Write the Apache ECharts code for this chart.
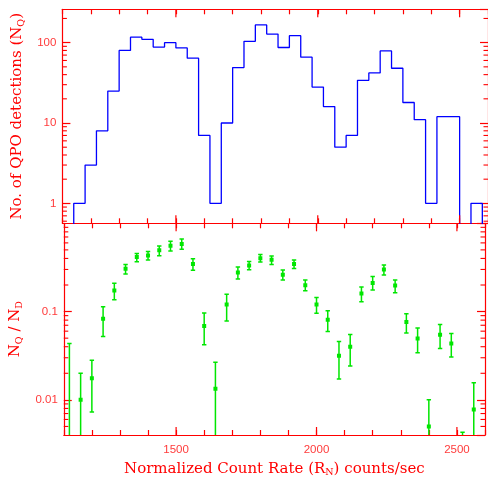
<!DOCTYPE html>
<html>
<head>
<meta charset="utf-8">
<script src="https://cdn.jsdelivr.net/npm/echarts@6/dist/echarts.min.js"></script>
<style>
html,body{margin:0;padding:0;background:#fff;}
#chart{width:488px;height:479px;}
</style>
</head>
<body>
<div id="chart"></div>
<script>
// ---------------- data ----------------
// bin centres (counts/sec), bin width 40
const binCenters = [1120,1160,1200,1240,1280,1320,1360,1400,1440,1480,1520,1560,1600,1640,1680,1720,1760,1800,1840,1880,1920,1960,2000,2040,2080,2120,2160,2200,2240,2280,2320,2360,2400,2440,2480,2520,2560,2600];
const binHalfWidth = 20;
// number of QPO detections per bin (top panel)
const qpoCounts = [0,1,3,8,25,80,117,110,88,100,86,64,7,1,10,49,104,166,128,87,122,66,28,16,5,7,34,42,79,48,18,11,1,12,12,0,1,0];
// NQ/ND ratio per bin (bottom panel) with lower / upper error limits
const ratioCenters = [1120,1160,1200,1240,1280,1320,1360,1400,1440,1480,1520,1560,1600,1640,1680,1720,1760,1800,1840,1880,1920,1960,2000,2040,2080,2120,2160,2200,2240,2280,2320,2360,2400,2440,2480,2520,2560];
const ratioValues = [0,0.010,0.0176,0.083,0.173,0.306,0.414,0.431,0.496,0.558,0.584,0.345,0.0687,0.0134,0.120,0.278,0.333,0.403,0.386,0.262,0.345,0.199,0.1205,0.081,0.0316,0.040,0.160,0.211,0.300,0.197,0.0762,0.0496,0.0050,0.0545,0.0436,0,0.0078];
const ratioUpper  = [0.0436,0.020,0.0281,0.1135,0.209,0.342,0.454,0.478,0.554,0.626,0.664,0.396,0.0962,0.0266,0.157,0.319,0.369,0.443,0.425,0.296,0.383,0.228,0.1445,0.1024,0.0459,0.055,0.190,0.249,0.336,0.228,0.0947,0.0653,0.010,0.0712,0.0564,0.0043,0.0156];
const ratioLower  = [0,0,0.0073,0.0522,0.136,0.267,0.366,0.383,0.428,0.487,0.509,0.293,0.042,0,0.0782,0.234,0.298,0.364,0.342,0.228,0.308,0.172,0.0955,0.0594,0.0172,0.0242,0.129,0.176,0.260,0.163,0.0573,0.0342,0,0.0383,0.0306,0,0];

// axes
const xRange = [1100, 2600];
const xLabelValues = [1500, 2000, 2500];
const xMajorTicks = [1500, 2000, 2500];
const topRange = [0.565, 260];
const topLabelValues = [1, 10, 100];
const topMinorTicks = [0.6,0.7,0.8,0.9,2,3,4,5,6,7,8,9,20,30,40,50,60,70,80,90,200];
const botRange = [0.004, 1];
const botLabelValues = [0.01, 0.1];
const botMinorTicks = [0.005,0.006,0.007,0.008,0.009,0.02,0.03,0.04,0.05,0.06,0.07,0.08,0.09,0.2,0.3,0.4,0.5,0.6,0.7,0.8,0.9];

// ---------------- style ----------------
const RED = '#ff0000';
const LABEL_RED = '#ff3b3b';
const BLUE = '#0000ff';
const GREEN = '#00e600';
const SERIF = '"DejaVu Serif", "Liberation Serif", serif';
const SANS = '"Liberation Sans", Arial, sans-serif';

const chart = echarts.init(document.getElementById('chart'), null, {renderer: 'canvas'});

// histogram step outline
const stepData = [];
binCenters.forEach((c, i) => {
  const v = qpoCounts[i] > 0 ? qpoCounts[i] : 0.1; // zero -> below axis (clipped)
  stepData.push([c - binHalfWidth, v]);
  stepData.push([c + binHalfWidth, v]);
});

function isIn(list, v) {
  return list.some(t => Math.abs(t - v) / t < 1e-6);
}

const richSub = {
  sub: {fontSize: 9.5, fontFamily: SERIF, color: RED, verticalAlign: 'bottom', padding: [8, 0, 0, 0]}
};

function xAxisDef(gridIndex, position, showLabel, name) {
  const a = {
    type: 'value', gridIndex, position, min: xRange[0], max: xRange[1], interval: 100,
    axisLine: {show: true, lineStyle: {color: RED, width: 1.2}},
    axisTick: {show: true, inside: true, length: 5, lineStyle: {color: RED, width: 1.2}},
    splitLine: {show: false},
    axisLabel: {
      show: showLabel, margin: 9, color: LABEL_RED, fontFamily: SANS, fontSize: 11.5,
      formatter: v => isIn(xLabelValues, v) ? String(v) : ''
    }
  };
  if (name) {
    a.name = name;
    a.nameLocation = 'middle';
    a.nameGap = 25;
    a.nameTextStyle = {color: RED, fontFamily: SERIF, fontSize: 15, rich: richSub};
  }
  return a;
}

function yAxisDef(gridIndex, position, range, labels, showLabel, name, gap) {
  const a = {
    type: 'log', logBase: 10, gridIndex, position, min: range[0], max: range[1],
    axisLine: {show: true, lineStyle: {color: RED, width: 1.2}},
    axisTick: {show: true, inside: true, length: 8, lineStyle: {color: RED, width: 1.2}},
    splitLine: {show: false},
    minorTick: {show: false},
    axisLabel: {
      show: showLabel, margin: 6, color: LABEL_RED, fontFamily: SANS, fontSize: 11.5,
      showMinLabel: false, showMaxLabel: false,
      formatter: v => isIn(labels, v) ? String(+v.toPrecision(3)) : ''
    }
  };
  if (name) {
    a.name = name;
    a.nameLocation = 'middle';
    a.nameGap = gap;
    a.nameTextStyle = {color: RED, fontFamily: SERIF, fontSize: 15, rich: richSub};
  }
  return a;
}

// tick-mark custom series (positions via axis scales)
function yTickSeries(xAxisIndex, yAxisIndex, ticks, side, len) {
  return {
    type: 'custom', xAxisIndex, yAxisIndex, silent: true, z: 5,
    data: ticks.map(t => [side === 'left' ? xRange[0] : xRange[1], t]),
    renderItem: (params, api) => {
      const p = api.coord([api.value(0), api.value(1)]);
      const dir = side === 'left' ? 1 : -1;
      return {type: 'line', shape: {x1: p[0], y1: p[1], x2: p[0] + dir * len, y2: p[1]},
              style: {stroke: RED, lineWidth: 1.1}};
    }
  };
}
function xTickSeries(xAxisIndex, yAxisIndex, ticks, yRange, len) {
  const data = [];
  ticks.forEach(t => { data.push([t, yRange[0], 1]); data.push([t, yRange[1], -1]); });
  return {
    type: 'custom', xAxisIndex, yAxisIndex, silent: true, z: 5,
    data,
    renderItem: (params, api) => {
      const p = api.coord([api.value(0), api.value(1)]);
      const dir = api.value(2);
      return {type: 'line', shape: {x1: p[0], y1: p[1], x2: p[0], y2: p[1] - dir * len},
              style: {stroke: RED, lineWidth: 1.2}};
    }
  };
}

const errorData = ratioCenters.map((c, i) => [c, ratioValues[i], ratioLower[i], ratioUpper[i]]);

const option = {
  backgroundColor: '#ffffff',
  animation: false,
  grid: [
    {left: 62.4, right: -2.8, top: 9.3, height: 214, containLabel: false},
    {left: 62.4, right: -2.8, top: 223.3, height: 213.3, containLabel: false}
  ],
  xAxis: [
    xAxisDef(0, 'bottom', false),
    xAxisDef(0, 'top', false),
    xAxisDef(1, 'bottom', true, 'Normalized Count Rate (R{sub|N}) counts/sec'),
    xAxisDef(1, 'top', false)
  ],
  yAxis: [
    yAxisDef(0, 'left', topRange, topLabelValues, true, 'No. of QPO detections (N{sub|Q})', 31),
    yAxisDef(0, 'right', topRange, topLabelValues, false),
    yAxisDef(1, 'left', botRange, botLabelValues, true, 'N{sub|Q} / N{sub|D}', 32),
    yAxisDef(1, 'right', botRange, botLabelValues, false)
  ],
  series: [
    {
      type: 'line', xAxisIndex: 0, yAxisIndex: 0, data: stepData,
      showSymbol: false, symbol: 'none', clip: true,
      lineStyle: {color: BLUE, width: 1.3}, z: 3
    },
    {
      type: 'custom', xAxisIndex: 2, yAxisIndex: 2, clip: true, z: 3,
      data: errorData,
      renderItem: (params, api) => {
        const x = api.value(0), v = api.value(1), lo = api.value(2), hi = api.value(3);
        const bottom = api.coord([x, botRange[0]]);
        const pHi = api.coord([x, hi]);
        const pLo = lo > botRange[0] ? api.coord([x, lo]) : bottom;
        const cap = 2.2;
        const st = {stroke: GREEN, lineWidth: 1.5};
        const children = [
          {type: 'line', shape: {x1: pHi[0], y1: pHi[1], x2: pLo[0], y2: pLo[1]}, style: st},
          {type: 'line', shape: {x1: pHi[0] - cap, y1: pHi[1], x2: pHi[0] + cap, y2: pHi[1]}, style: st}
        ];
        if (lo > botRange[0]) {
          children.push({type: 'line', shape: {x1: pLo[0] - cap, y1: pLo[1], x2: pLo[0] + cap, y2: pLo[1]}, style: st});
        }
        if (v > botRange[0]) {
          const p = api.coord([x, v]);
          children.push({type: 'rect', shape: {x: p[0] - 2, y: p[1] - 2, width: 4, height: 4}, style: {fill: GREEN}});
        }
        return {type: 'group', children};
      }
    },
    yTickSeries(0, 0, topMinorTicks, 'left', 4.5),
    yTickSeries(0, 0, topMinorTicks, 'right', 4.5),
    yTickSeries(2, 2, botMinorTicks, 'left', 4.5),
    yTickSeries(2, 2, botMinorTicks, 'right', 4.5),
    xTickSeries(0, 0, xMajorTicks, topRange, 8),
    xTickSeries(2, 2, xMajorTicks, botRange, 8)
  ]
};
chart.setOption(option);
</script>
</body>
</html>
